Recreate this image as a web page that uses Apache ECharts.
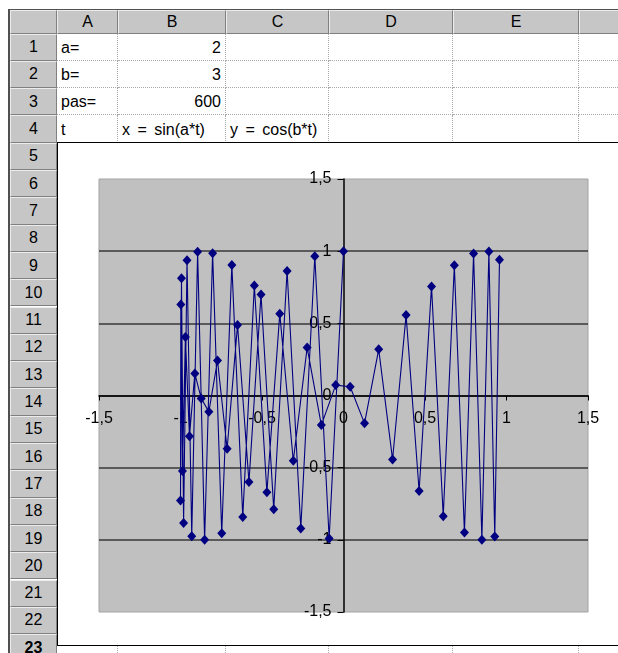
<!DOCTYPE html>
<html>
<head>
<meta charset="utf-8">
<script src="https://cdn.jsdelivr.net/npm/echarts@6/dist/echarts.min.js"></script>
<style>
html,body{margin:0;padding:0;width:618px;height:653px;overflow:hidden;background:#fff;font-family:"Liberation Sans",Arial,sans-serif;}
#sheet{position:absolute;left:0;top:0;width:618px;height:653px;overflow:hidden;}
.hd{position:absolute;box-sizing:border-box;background:#c6c6c6;border-top:1px solid #ececec;border-left:1px solid #ececec;border-right:1px solid #808080;border-bottom:1px solid #808080;font-size:16px;color:#000;display:flex;align-items:center;justify-content:center;}
.cell{position:absolute;box-sizing:border-box;border-right:1px dotted #a8a8a8;border-bottom:1px dotted #a8a8a8;font-size:16px;color:#000;padding:0 4px;display:flex;align-items:flex-end;padding-bottom:3px;white-space:nowrap;overflow:hidden;}
#chartbox{position:absolute;left:57px;top:142px;width:600px;height:504px;background:#fff;border:1px solid #000;box-sizing:border-box;}
#chart{position:absolute;left:0;top:0;width:618px;height:653px;}
</style>
</head>
<body>
<div id="sheet"></div>
<div id="chart"></div>
<script>
// ---- spreadsheet content ----
const colLetters = ['A', 'B', 'C', 'D', 'E', ''];
const colA = ['a=', 'b=', 'pas=', 't'];
const colB = ['2', '3', '600', 'x = sin(a*t)'];
const colC = ['', '', '', 'y = cos(b*t)'];
const rowCount = 23;

// ---- chart data ----
const xValues = [
  0.000, -0.088, -0.176, -0.262, -0.346, -0.428, -0.506, -0.580, -0.650, -0.714,
  -0.773, -0.826, -0.873, -0.912, -0.945, -0.970, -0.988, -0.998, -1.000, -0.994,
  -0.981, -0.960, -0.931, -0.895, -0.852, -0.803, -0.747, -0.685, -0.618, -0.547,
  -0.470, -0.391, -0.308, -0.223, -0.136, -0.048, 0.041, 0.129, 0.216, 0.301,
  0.384, 0.464, 0.540, 0.612, 0.680, 0.742, 0.798, 0.849, 0.892, 0.928, 0.957
];
const yValues = [
  1.000, -0.991, 0.965, -0.922, 0.863, -0.788, 0.700, -0.599, 0.489, -0.369,
  0.242, -0.112, -0.020, 0.152, -0.282, 0.406, -0.523, 0.631, -0.728, 0.813,
  -0.883, 0.937, -0.975, 0.996, -0.999, 0.985, -0.954, 0.905, -0.841, 0.762,
  -0.670, 0.567, -0.452, 0.332, -0.205, 0.072, 0.061, -0.193, 0.320, -0.443,
  0.557, -0.662, 0.756, -0.836, 0.902, -0.950, 0.983, -0.999, 0.997, -0.977, 0.941
];
const axisTicks = [-1.5, -1, -0.5, 0, 0.5, 1, 1.5];

// ---- build the sheet ----
const sheet = document.getElementById('sheet');
const colEdges = [57, 118, 226, 329, 453, 579, 660];
const headTop = 10, headBottom = 33.5, rowH = 27.3, rowHeadLeft = 10;
function div(cls, l, t, w, h, txt, extra) {
  const d = document.createElement('div');
  d.className = cls;
  d.style.left = l + 'px'; d.style.top = t + 'px';
  d.style.width = w + 'px'; d.style.height = h + 'px';
  if (txt !== undefined) d.textContent = txt;
  if (extra) Object.assign(d.style, extra);
  sheet.appendChild(d);
  return d;
}
div('hd', rowHeadLeft, headTop, colEdges[0] - rowHeadLeft, headBottom - headTop);
for (let i = 0; i < colLetters.length; i++) {
  div('hd', colEdges[i], headTop, colEdges[i + 1] - colEdges[i], headBottom - headTop, colLetters[i]);
}
for (let r = 0; r < rowCount; r++) {
  const top = headBottom + r * rowH;
  div('hd', rowHeadLeft, top, colEdges[0] - rowHeadLeft, rowH, String(r + 1),
      r === rowCount - 1 ? {fontWeight: 'bold'} : undefined);
  for (let c = 0; c < colLetters.length; c++) {
    let txt = '';
    let extra = {};
    if (r < 4) {
      if (c === 0) txt = colA[r];
      if (c === 1) { txt = colB[r]; if (r < 3) extra.justifyContent = 'flex-end'; else extra.wordSpacing = '3px'; }
      if (c === 2) { txt = colC[r]; extra.wordSpacing = '3px'; }
    }
    div('cell', colEdges[c], top, colEdges[c + 1] - colEdges[c], rowH, txt, extra);
  }
}
div('', rowHeadLeft - 2, headTop - 1, 2, 653, undefined, {position: 'absolute', background: '#505050'});
div('', rowHeadLeft - 2, headTop - 1, 640, 1, undefined, {position: 'absolute', background: '#505050'});
const box = document.createElement('div');
box.id = 'chartbox';
sheet.appendChild(box);

// ---- chart ----
const gridW = 489, gridH = 433;
const fmt = v => String(v).replace('.', ',');
const labelFont = 'Liberation Sans, Arial, sans-serif';
const chart = echarts.init(document.getElementById('chart'), null, {renderer: 'canvas'});
chart.setOption({
  animation: false,
  grid: {
    left: 99, top: 179, width: gridW, height: gridH,
    show: true, backgroundColor: '#c0c0c0', borderColor: '#a4a4a4', borderWidth: 1,
    outerBoundsMode: 'none'
  },
  xAxis: {
    type: 'value', position: 'bottom', offset: -gridH / 2,
    min: axisTicks[0], max: axisTicks[axisTicks.length - 1], interval: 0.5,
    axisLine: {onZero: false, lineStyle: {color: '#000', width: 1.5}},
    axisTick: {show: true, length: 5, lineStyle: {color: '#000', width: 1}},
    axisLabel: {margin: 15, fontSize: 16, color: '#000', fontFamily: labelFont,
                formatter: fmt, showMinLabel: true, showMaxLabel: true, hideOverlap: false},
    splitLine: {show: false}
  },
  yAxis: {
    type: 'value', position: 'left', offset: -gridW / 2,
    min: axisTicks[0], max: axisTicks[axisTicks.length - 1], interval: 0.5,
    axisLine: {onZero: false, lineStyle: {color: '#000', width: 1.5}},
    axisTick: {show: true, length: 6, lineStyle: {color: '#000', width: 1}},
    axisLabel: {margin: 12, fontSize: 16, color: '#000', fontFamily: labelFont,
                formatter: fmt, showMinLabel: true, showMaxLabel: true, hideOverlap: false},
    splitLine: {show: true, showMinLine: false, showMaxLine: false, lineStyle: {color: '#383838', width: 1.6}}
  },
  series: [{
    type: 'line',
    data: xValues.map((x, i) => [x, yValues[i]]),
    symbol: 'diamond',
    symbolSize: [9, 10],
    showAllSymbol: true,
    lineStyle: {color: '#000080', width: 1.1},
    itemStyle: {color: '#000080'},
    emphasis: {disabled: true},
    z: 3
  }]
});
</script>
</body>
</html>
